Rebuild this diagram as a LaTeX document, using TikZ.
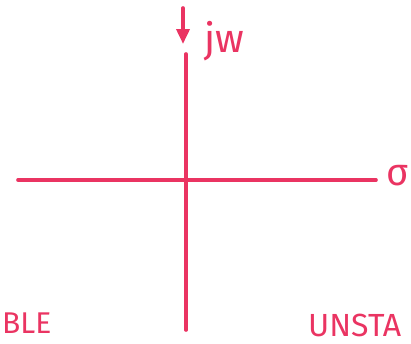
\documentclass[tikz,border=0pt]{standalone}
\usepackage{fontspec}
\setmainfont{Fira Sans}
\usetikzlibrary{arrows.meta}
\definecolor{ink}{RGB}{234,52,98}
\begin{document}
\begin{tikzpicture}[x=1pt,y=-1pt,
  pen/.style={draw=ink,line width=3.6pt,line cap=round},
  lbl/.style={text=ink,inner sep=0pt,font=\fontsize{34}{34}\selectfont}]
\useasboundingbox (0,0) rectangle (411,343);
\clip (0,0) rectangle (411,343);
\coordinate (vtop) at (186,54);
\coordinate (vbot) at (186,330);
\coordinate (hl) at (18,180);
\coordinate (hr) at (376,180);
\coordinate (atop) at (183,8);
\coordinate (abot) at (183,44);
\draw[pen] (vtop) -- (vbot);
\draw[pen] (hl) -- (hr);
\draw[pen,-{Triangle[length=15pt,width=13pt]}] (atop) -- (abot);
\node[lbl,anchor=base west,font=\fontsize{40}{40}\selectfont] (jw) at (204,52) {jw};
\node[lbl,anchor=west,font=\fontsize{38}{38}\selectfont] (sigma) at (386,176) {σ};
\node[lbl,anchor=base west,text depth=0pt,font=\fontsize{30}{30}\selectfont] (stable) at (2,333) {BLE};
\node[lbl,anchor=base west,text depth=0pt,font=\fontsize{32}{32}\selectfont] (unstable) at (308,336) {UNSTA};
\end{tikzpicture}
\end{document}
